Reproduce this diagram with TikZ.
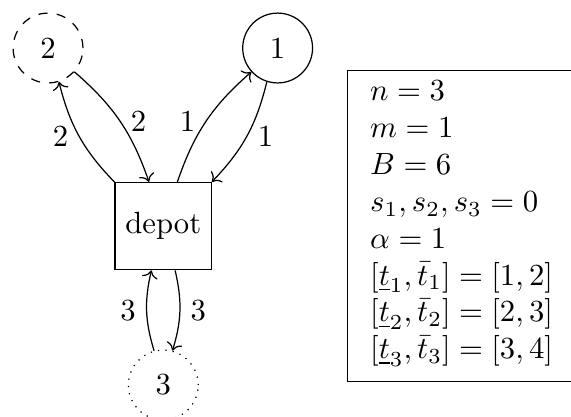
\documentclass[tikz,border=0pt]{standalone}
\usepackage{amsmath}
\usepackage{tikz}
\usetikzlibrary{arrows.meta, positioning}
\tikzset{
  cust/.style={circle, draw, minimum size=0.8cm, inner sep=0pt},
  depotbox/.style={rectangle, draw, minimum size=1cm},
  infobox/.style={rectangle, draw, align=left, inner xsep=7.5pt, inner ysep=3.5pt, text depth=4pt},
  route/.style={->, bend left=15}
}

\begin{document}
\begin{tikzpicture}
  \useasboundingbox (0,0) rectangle (6.54,-4.765);

  % Customers and depot
  \node[depotbox] (depot) at (1.87,-2.59) {depot};
  \node[cust] (c1) at (3.18,-0.55) {1};
  \node[cust, dashed] (c2) at (0.55,-0.55) {2};
  \node[cust, dotted] (c3) at (1.87,-4.41) {3};

  % Routes
  \draw (depot) edge[route] node[left] {1} (c1);
  \draw (c1) edge[route] node[right] {1} (depot);
  \draw (depot) edge[route] node[left] {2} (c2);
  \draw (c2) edge[route] node[right] {2} (depot);
  \draw (depot) edge[route] node[right] {3} (c3);
  \draw (c3) edge[route] node[left] {3} (depot);

  % Instance data
  \node[infobox, anchor=north west] (data) at (3.97,-0.80) {%
    $n=3$\\
    $m=1$\\
    $B=6$\\
    $s_1,s_2,s_3=0$\\
    $\alpha=1$\\
    $[\underline{t}_1,\bar{t}_1]=[1,2]$\\
    $[\underline{t}_2,\bar{t}_2]=[2,3]$\\
    $[\underline{t}_3,\bar{t}_3]=[3,4]$};
\end{tikzpicture}
\end{document}
